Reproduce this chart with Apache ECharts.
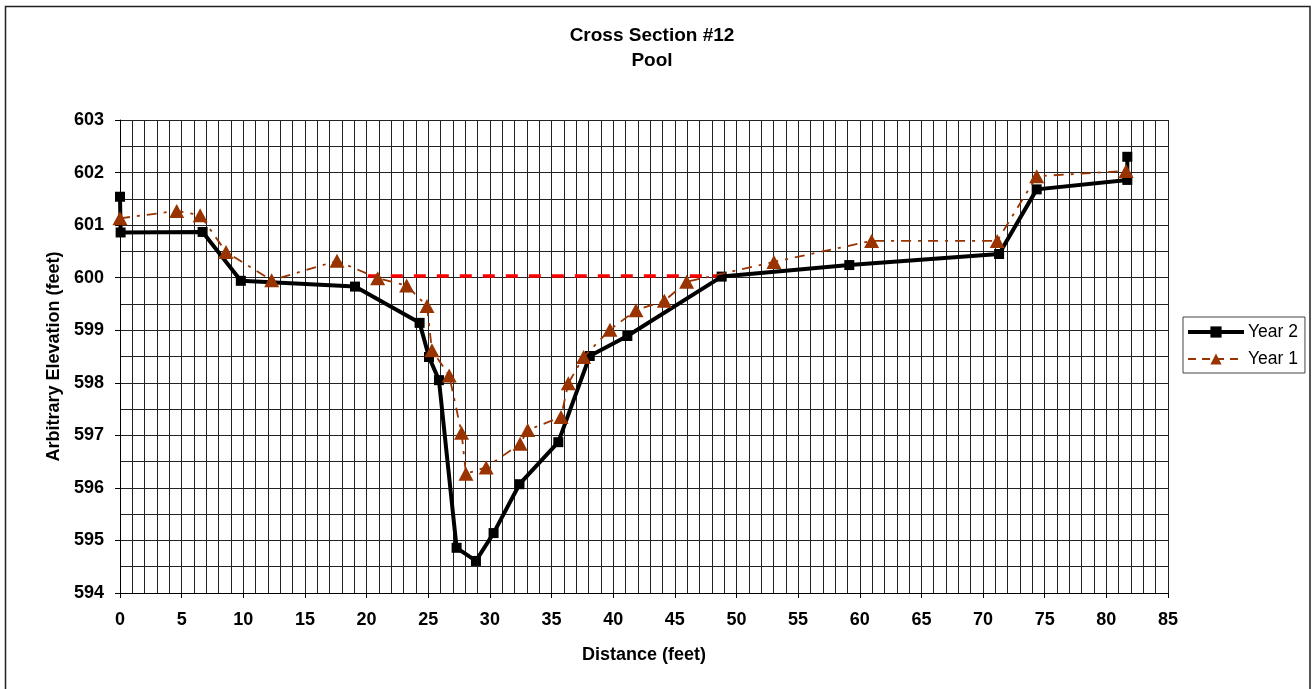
<!DOCTYPE html>
<html>
<head>
<meta charset="utf-8">
<script src="https://cdn.jsdelivr.net/npm/echarts@6/dist/echarts.min.js"></script>
<style>
  html, body { margin: 0; padding: 0; background: #fff; }
  #chart { width: 1313px; height: 689px; }
</style>
</head>
<body>
<div id="chart"></div>
<script>
// 数据：读图估计
const year2Dist = [0, 0.05, 6.7, 9.8, 19.06, 24.3, 25.06, 25.87, 27.3, 28.87, 30.3, 32.4, 35.55, 38.1, 41.15, 48.8, 59.15, 71.3, 74.35, 81.7, 81.7];
const year2Elev = [601.54, 600.86, 600.87, 599.94, 599.83, 599.14, 598.49, 598.05, 594.86, 594.61, 595.14, 596.07, 596.87, 598.51, 598.89, 600.02, 600.24, 600.45, 601.68, 601.86, 602.30];

const year1Dist = [0, 4.6, 6.5, 8.6, 12.3, 17.6, 20.9, 23.25, 24.9, 25.3, 26.7, 27.7, 28.06, 29.7, 32.45, 33.07, 35.77, 36.36, 37.6, 39.74, 41.85, 44.15, 45.96, 53.04, 60.96, 71.15, 74.35, 81.6];
const year1Elev = [601.13, 601.27, 601.19, 600.49, 599.95, 600.32, 599.99, 599.85, 599.46, 598.62, 598.14, 597.05, 596.27, 596.39, 596.84, 597.10, 597.35, 597.99, 598.49, 599.01, 599.38, 599.56, 599.92, 600.30, 600.70, 600.70, 601.93, 602.03];

// 水面线
const waterDist = [20.1, 48.6];
const waterElev = [600.03, 600.03];

const pairs = (xs, ys) => xs.map((x, i) => [x, ys[i]]);

const chart = echarts.init(document.getElementById('chart'));
const font = 'Liberation Sans, Arial, sans-serif';

const option = {
  animation: false,
  textStyle: { fontFamily: font },
  title: {
    text: 'Cross Section #12\nPool',
    left: 647,
    textAlign: 'center',
    top: 18,
    textStyle: { fontSize: 19, fontWeight: 'bold', color: '#000', lineHeight: 25, fontFamily: font }
  },
  graphic: [{
    type: 'rect',
    shape: { x: 5.5, y: 6.5, width: 1304.5, height: 700 },
    style: { fill: 'none', stroke: '#222', lineWidth: 1.5 },
    silent: true
  }],
  legend: {
    data: [
      { name: 'Year 2', lineStyle: { width: 4 } },
      { name: 'Year 1', lineStyle: { width: 2, type: [8, 6] } }
    ],
    orient: 'vertical',
    left: 1183,
    top: 317,
    itemWidth: 56,
    itemHeight: 14,
    itemGap: 9,
    padding: [6, 7, 5, 3],
    borderColor: '#444',
    borderWidth: 1,
    textStyle: { fontSize: 17.5, color: '#000', fontFamily: font, padding: [0, 0, 0, -1] }
  },
  grid: { left: 120, right: 145, top: 120, bottom: 96 },
  xAxis: {
    type: 'value',
    min: 0, max: 85, interval: 5,
    name: 'Distance (feet)',
    nameLocation: 'middle',
    nameGap: 53,
    nameTextStyle: { fontSize: 18, fontWeight: 'bold', color: '#000' },
    axisLine: { lineStyle: { color: '#000', width: 1 } },
    axisTick: { show: true, length: 5, lineStyle: { color: '#000' } },
    axisLabel: { fontSize: 18, fontWeight: 'bold', color: '#000', margin: 18 },
    splitLine: { show: true, lineStyle: { color: '#222', width: 1 } },
    minorTick: { show: false, splitNumber: 5 },
    minorSplitLine: { show: true, lineStyle: { color: '#222', width: 1 } }
  },
  yAxis: {
    type: 'value',
    min: 594, max: 603, interval: 1,
    name: 'Arbitrary Elevation (feet)',
    nameLocation: 'middle',
    nameGap: 57,
    nameTextStyle: { fontSize: 18, fontWeight: 'bold', color: '#000' },
    axisLine: { show: true, lineStyle: { color: '#000', width: 1 } },
    axisTick: { show: true, length: 5, lineStyle: { color: '#000' } },
    axisLabel: { fontSize: 18, fontWeight: 'bold', color: '#000', margin: 16 },
    splitLine: { show: true, lineStyle: { color: '#222', width: 1 } },
    minorTick: { show: false, splitNumber: 2 },
    minorSplitLine: { show: true, lineStyle: { color: '#222', width: 1 } }
  },
  series: [
    {
      name: 'Water',
      type: 'line',
      data: pairs(waterDist, waterElev),
      symbol: 'none',
      lineStyle: { color: '#ff0000', width: 3.5, type: [12, 11] },
      z: 1
    },
    {
      name: 'Year 2',
      type: 'line',
      data: pairs(year2Dist, year2Elev),
      symbol: 'rect',
      symbolSize: 10,
      itemStyle: { color: '#000' },
      lineStyle: { color: '#000', width: 4 },
      z: 3
    },
    {
      name: 'Year 1',
      type: 'line',
      data: pairs(year1Dist, year1Elev),
      symbol: 'triangle',
      symbolSize: [15, 14],
      itemStyle: { color: '#993300' },
      lineStyle: { color: '#993300', width: 1.8, type: [10, 7, 3, 7] },
      z: 4
    }
  ]
};

option && chart.setOption(option);
</script>
</body>
</html>
